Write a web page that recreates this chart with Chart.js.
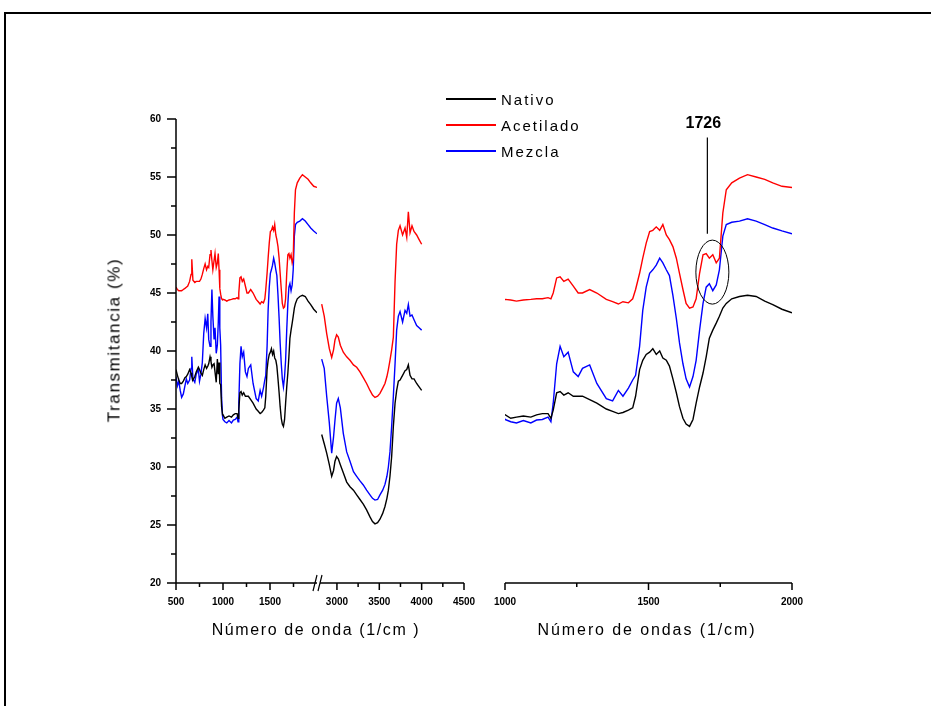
<!DOCTYPE html>
<html>
<head>
<meta charset="utf-8">
<script src="https://cdn.jsdelivr.net/npm/chart.js@4.4.1/dist/chart.umd.min.js"></script>
<style>
	html, body { margin: 0; padding: 0; background: #fff; }
	body { width: 931px; height: 706px; position: relative; overflow: hidden; font-family: "Liberation Sans", Arial, sans-serif; color: #000; }
	.frame { position: absolute; left: 4px; top: 12px; width: 1000px; height: 1000px; border: 2px solid #000; }
	canvas { position: absolute; left: 0; top: 0; }
	.title { position: absolute; white-space: nowrap; line-height: 1; transform: translate(-50%, -50%); }
	#ytitle { left: 114px; top: 340px; font-size: 17px; letter-spacing: 1.6px; transform: translate(-50%, -50%) rotate(-90deg); }
	#legend { position: absolute; left: 446px; top: 86px; font-size: 15px; letter-spacing: 2px; }
	#legend .row { height: 26px; display: flex; align-items: center; }
	#legend .swatch { width: 50px; height: 1.5px; margin-right: 5px; }
</style>
</head>
<body>
<div class="frame"></div>
<canvas id="low" width="931" height="706"></canvas>
<canvas id="high" width="931" height="706"></canvas>
<canvas id="zoom" width="931" height="706"></canvas>
<div id="legend"></div>
<div class="title" id="ytitle">Transmitancia (%)</div>
<div class="title" style="left:316px;top:630px;font-size:16px;letter-spacing:1.6px">Número de onda (1/cm )</div>
<div class="title" style="left:647px;top:630px;font-size:16px;letter-spacing:1.9px">Número de ondas (1/cm)</div>
<script>
const seriesNames = ["Nativo", "Acetilado", "Mezcla"]
const seriesColors = ["#000000", "#ff0000", "#0000ff"]

// 500 - 2000 cm-1
const lowWavenumbers = [
	500, 515, 530, 545, 560, 578, 595, 610, 625, 645, 660, 668, 680, 700, 715, 738, 750, 765, 780, 795,
	810, 825, 838, 848, 862, 872, 882, 892, 905, 915, 928, 940, 950, 958, 966, 975, 985, 995,
	1000, 1020, 1040, 1064, 1090, 1110, 1130, 1150, 1160, 1168, 1180, 1192, 1205, 1220, 1238, 1255, 1270, 1295,
	1320, 1353, 1375, 1395, 1411, 1430, 1445, 1455, 1469, 1480, 1492, 1504, 1515, 1527, 1539, 1550, 1562, 1573,
	1585, 1597, 1608, 1620, 1631, 1643, 1655, 1666, 1678, 1690, 1701, 1712, 1724, 1736, 1747, 1759, 1771, 1790,
	1817, 1845, 1875, 1905, 1933, 1965, 2000
]
const nativoLow = [
	38.4, 37.9, 37.5, 37.2, 37.2, 37.4, 37.7, 37.8, 38.0, 38.4, 38.1, 37.8, 37.5, 37.8, 38.2, 38.6, 38.4, 38.1, 37.9, 38.4,
	38.8, 38.5, 38.7, 38.9, 39.5, 39.1, 38.6, 38.8, 38.9, 38.2, 37.3, 39.3, 38.0, 39.0, 37.2, 37.1, 35.2, 34.5,
	34.5, 34.2, 34.3, 34.4, 34.3, 34.5, 34.6, 34.6, 34.2, 34.9, 36.4, 36.5, 36.2, 36.4, 36.1, 36.1, 36.1, 35.8,
	35.5, 35.0, 34.8, 34.6, 34.7, 34.9, 35.1, 36.1, 38.4, 39.2, 39.7, 39.9, 40.2, 39.7, 40.0, 39.4, 39.2, 38.7,
	37.6, 36.4, 35.2, 34.2, 33.7, 33.5, 34.1, 35.5, 36.9, 38.1, 39.5, 41.1, 41.8, 42.4, 43.0, 43.7, 44.1, 44.5,
	44.7, 44.8, 44.7, 44.3, 44.0, 43.6, 43.3
]
const acetiladoLow = [
	45.5, 45.3, 45.2, 45.2, 45.2, 45.3, 45.4, 45.5, 45.6, 46.0, 46.6, 47.9, 46.1, 45.9, 46.0, 46.0, 46.0, 46.2, 46.6, 47.1,
	47.5, 47.0, 47.3, 47.2, 48.3, 48.7, 47.8, 47.0, 47.8, 48.4, 47.2, 47.6, 48.4, 47.0, 45.4, 44.9, 44.5, 44.4,
	44.45, 44.4, 44.3, 44.4, 44.45, 44.5, 44.5, 44.6, 44.5, 45.0, 46.3, 46.4, 46.0, 46.2, 45.6, 45.0, 45.0, 45.3,
	45.0, 44.45, 44.25, 44.05, 44.25, 44.15, 44.5, 45.3, 46.7, 48.0, 49.3, 50.3, 50.4, 50.7, 50.4, 50.9, 50.0, 49.6,
	49.0, 48.0, 46.7, 45.3, 44.1, 43.7, 43.8, 44.5, 46.7, 48.3, 48.4, 48.0, 48.3, 47.6, 48.0, 51.9, 53.9, 54.5,
	54.9, 55.2, 55.0, 54.8, 54.5, 54.2, 54.1
]
const mezclaLow = [
	37.8, 37.0, 37.4, 36.6, 36.0, 36.3, 37.0, 37.6, 37.2, 37.5, 38.5, 39.5, 37.6, 37.3, 38.0, 38.4, 37.4, 38.0, 39.0, 41.5,
	42.8, 42.0, 43.2, 41.0, 40.4, 42.5, 45.3, 43.0, 41.0, 42.0, 39.8, 40.5, 42.5, 44.7, 42.0, 40.5, 36.0, 34.4,
	34.1, 33.9, 33.8, 34.0, 33.8, 34.05, 34.1, 34.3, 33.9, 35.5, 38.9, 40.4, 39.5, 39.9, 38.2, 37.8, 38.5, 38.8,
	37.2, 35.9, 35.7, 36.6, 36.1, 36.8, 37.5, 37.9, 40.4, 43.5, 45.5, 46.7, 47.0, 47.4, 48.0, 47.6, 47.0, 46.5,
	44.8, 42.8, 40.7, 38.9, 37.6, 36.9, 37.8, 39.2, 41.8, 44.1, 45.5, 45.8, 45.2, 45.7, 47.0, 49.9, 50.9, 51.1,
	51.2, 51.4, 51.2, 50.9, 50.6, 50.35, 50.1
]

// 2820 - 4000 cm-1
const highWavenumbers = [
	2820, 2850, 2879, 2910, 2938, 2960, 2977, 2996, 3016, 3040, 3075, 3115, 3154, 3195, 3233, 3272, 3311, 3350, 3390, 3420,
	3449, 3480, 3508, 3540, 3567, 3590, 3607, 3626, 3646, 3666, 3686, 3705, 3725, 3745, 3775, 3804, 3824, 3843, 3863, 3886,
	3910, 3941, 3970, 4000
]
const nativoHigh = [
	32.8, 32.0, 31.2, 30.2, 29.2, 29.7, 30.5, 30.9, 30.7, 30.2, 29.5, 28.7, 28.3, 28.0, 27.6, 27.2, 26.8, 26.3, 25.7, 25.3,
	25.1, 25.2, 25.5, 26.0, 26.6, 27.3, 28.0, 29.2, 30.9, 33.5, 35.5, 36.6, 37.4, 37.5, 37.9, 38.3, 38.4, 38.8, 37.9, 37.6,
	37.6, 37.2, 36.9, 36.6
]
const acetiladoHigh = [
	44.05, 43.0, 41.5, 40.2, 39.45, 40.1, 40.95, 41.4, 41.2, 40.5, 39.9, 39.5, 39.2, 38.8, 38.6, 38.2, 37.7, 37.2, 36.6, 36.2,
	36.0, 36.1, 36.35, 36.8, 37.2, 37.8, 38.4, 39.2, 40.1, 41.2, 46.0, 49.2, 50.4, 50.8, 50.0, 50.6, 49.8, 52.0, 50.2, 50.8,
	50.3, 50.0, 49.6, 49.2
]
const mezclaHigh = [
	39.3, 38.5, 36.1, 33.8, 31.2, 32.6, 34.05, 35.5, 35.9, 35.1, 32.9, 31.3, 30.5, 29.6, 29.2, 28.8, 28.45, 28.0, 27.6, 27.3,
	27.15, 27.2, 27.6, 28.0, 28.5, 29.2, 30.0, 31.3, 33.5, 36.1, 38.9, 41.8, 43.0, 43.4, 42.5, 43.5, 43.25, 44.0, 43.0, 43.1,
	42.7, 42.2, 42.0, 41.8
]

const lowTicks = [500, 750, 1000, 1250, 1500, 1750]
const highTicks = [3000, 3250, 3500, 3750, 4000, 4250, 4500]
const zoomTicks = [1000, 1250, 1500, 1750, 2000]
const yTicks = [20, 22.5, 25, 27.5, 30, 32.5, 35, 37.5, 40, 42.5, 45, 47.5, 50, 52.5, 55, 57.5, 60]

const peakLabel = "1726"
const peakWavenumber = 1726

const tickFont = {family: "'Liberation Sans', Arial, sans-serif", size: 10, weight: "bold"}

const noPadding = s => {
	s.paddingLeft = 0
	s.paddingRight = 0
	s.paddingTop = 0
	s.paddingBottom = 0
}

const makeDatasets = (xs, columns) => columns.map((ys, i) => ({
	label: seriesNames[i],
	data: xs.map((x, j) => ({x, y: ys[j]})),
	borderColor: seriesColors[i],
	backgroundColor: seriesColors[i],
	borderWidth: 1.4,
	pointRadius: 0,
	tension: 0
}))

const xScale = (min, max, ticks) => ({
	type: "linear",
	min, max,
	afterBuildTicks: s => { s.ticks = ticks.map(value => ({value})) },
	afterFit: s => { s.height = 58; noPadding(s) },
	grid: {display: true, drawOnChartArea: false, drawTicks: true, tickLength: 8, color: "rgba(0,0,0,0)"},
	border: {display: false},
	ticks: {autoSkip: false, maxRotation: 0, padding: 5, color: "#000", font: tickFont,
		callback: v => v % 500 == 0 ? String(v) : ""}
})

const hiddenY = {type: "linear", min: 20, max: 60, display: false}

// axis lines and tick marks, drawn by hand so minor ticks can be shorter
const axisMarks = {
	id: "axisMarks",
	afterDraw(chart, args, opts) {
		const {ctx, chartArea: a, scales: {x, y}} = chart
		ctx.save()
		ctx.strokeStyle = "#000"
		ctx.lineWidth = 1.5
		ctx.beginPath()
		ctx.moveTo(a.left, a.bottom)
		ctx.lineTo(a.right, a.bottom)
		for (const t of x.ticks) {
			const px = x.getPixelForValue(t.value)
			ctx.moveTo(px, a.bottom)
			ctx.lineTo(px, a.bottom + (t.value % 500 == 0 ? 7 : 4))
		}
		if (opts.yAxis) {
			ctx.moveTo(a.left, a.top)
			ctx.lineTo(a.left, a.bottom)
			for (const t of y.ticks) {
				const py = y.getPixelForValue(t.value)
				ctx.moveTo(a.left, py)
				ctx.lineTo(a.left - (t.value % 5 == 0 ? 9 : 5), py)
			}
		}
		ctx.stroke()
		if (opts.breakMark) {
			ctx.lineWidth = 1.2
			ctx.beginPath()
			ctx.moveTo(a.right - 4, a.bottom + 8)
			ctx.lineTo(a.right, a.bottom - 8)
			ctx.moveTo(a.right + 1, a.bottom + 8)
			ctx.lineTo(a.right + 5, a.bottom - 8)
			ctx.stroke()
		}
		ctx.restore()
	}
}

const peakNote = {
	id: "peakNote",
	afterDatasetsDraw(chart) {
		const {ctx, scales: {x, y}} = chart
		const px = x.getPixelForValue(peakWavenumber)
		ctx.save()
		ctx.fillStyle = "#000"
		ctx.strokeStyle = "#000"
		ctx.font = "bold 16px 'Liberation Sans', Arial, sans-serif"
		ctx.textAlign = "center"
		ctx.textBaseline = "middle"
		ctx.fillText(peakLabel, px - 10, y.getPixelForValue(59.6))
		ctx.lineWidth = 1.2
		ctx.beginPath()
		ctx.moveTo(px - 6, y.getPixelForValue(58.4))
		ctx.lineTo(px - 6, y.getPixelForValue(50.1))
		ctx.stroke()
		ctx.lineWidth = 1
		ctx.beginPath()
		ctx.ellipse(px - 1, y.getPixelForValue(46.8), 16.5, 32, 0, 0, Math.PI * 2)
		ctx.stroke()
		ctx.restore()
	}
}

const baseOptions = (padding, scales, marks) => ({
	responsive: false,
	animation: false,
	devicePixelRatio: 1,
	layout: {padding},
	scales,
	plugins: {legend: {display: false}, tooltip: {enabled: false}, axisMarks: marks}
})

new Chart(document.getElementById("low"), {
	type: "line",
	data: {datasets: makeDatasets(lowWavenumbers, [nativoLow, acetiladoLow, mezclaLow])},
	options: baseOptions({left: 103, right: 614, top: 119, bottom: 65}, {
		x: xScale(500, 2000, lowTicks),
		y: {
			type: "linear", min: 20, max: 60,
			afterBuildTicks: s => { s.ticks = yTicks.map(value => ({value})) },
			afterFit: s => { s.width = 73; noPadding(s) },
			grid: {display: true, drawOnChartArea: false, drawTicks: true, tickLength: 8, color: "rgba(0,0,0,0)"},
			border: {display: false},
			ticks: {padding: 7, color: "#000", font: tickFont, callback: v => v % 5 == 0 ? String(v) : ""}
		}
	}, {yAxis: true, breakMark: true}),
	plugins: [axisMarks]
})

new Chart(document.getElementById("high"), {
	type: "line",
	data: {datasets: makeDatasets(highWavenumbers, [nativoHigh, acetiladoHigh, mezclaHigh])},
	options: baseOptions({left: 320, right: 467, top: 119, bottom: 65}, {
		x: xScale(2800, 4500, highTicks),
		y: hiddenY
	}, {}),
	plugins: [axisMarks]
})

new Chart(document.getElementById("zoom"), {
	type: "line",
	data: {datasets: makeDatasets(lowWavenumbers, [nativoLow, acetiladoLow, mezclaLow])},
	options: baseOptions({left: 505, right: 139, top: 119, bottom: 65}, {
		x: xScale(1000, 2000, zoomTicks),
		y: hiddenY
	}, {}),
	plugins: [axisMarks, peakNote]
})

document.getElementById("legend").innerHTML = seriesNames.map((name, i) =>
	"<div class='row'><span class='swatch' style='background:" + seriesColors[i] + "'></span>" + name + "</div>"
).join("")
</script>
</body>
</html>
